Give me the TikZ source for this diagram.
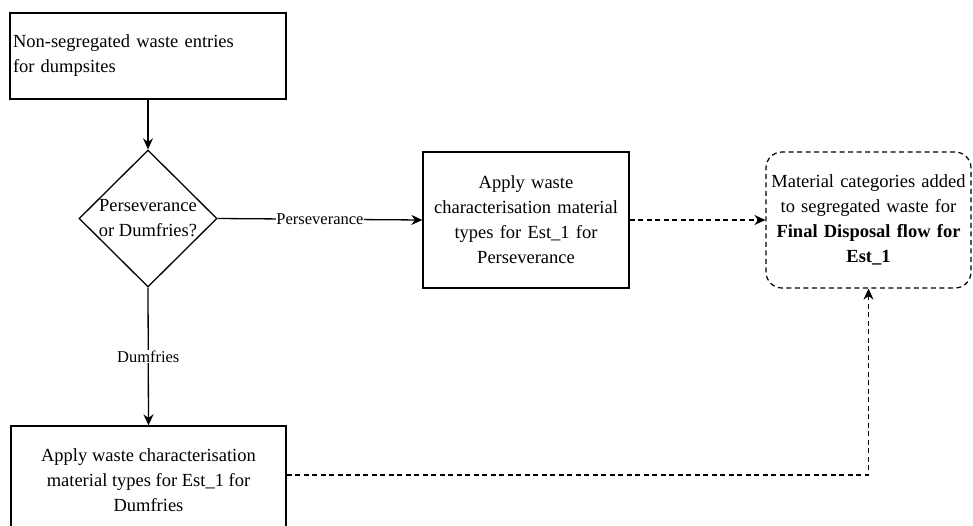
\documentclass[tikz,border=0pt]{standalone}
\usepackage{fontspec}
\setmainfont{Liberation Serif}
\usetikzlibrary{shapes.geometric,arrows.meta}
\begin{document}
\begin{tikzpicture}[x=1pt,y=-1pt,
  every node/.style={font=\fontsize{18.5}{25}\selectfont},
  box/.style={draw, line width=1.3pt, rectangle, inner sep=4pt, anchor=center},
  softbox/.style={draw, dash pattern=on 5pt off 3.5pt, line width=1.2pt, rounded corners=16pt, inner sep=2pt},
  edgelabel/.style={fill=white, inner sep=0.5pt, font=\fontsize{16.5}{18}\selectfont},
  flow/.style={line width=1.3pt, -{Stealth[length=11pt,width=10pt]}},
  dflow/.style={line width=1.2pt, dash pattern=on 5pt off 3.5pt, -{Stealth[length=11pt,width=10pt]}}]
  \useasboundingbox (0,0) rectangle (973,525);

  % entry box
  \node[box, minimum width=276pt, minimum height=86pt, text width=270pt, align=left, inner sep=3pt] (entry) at (148,56)
    {Non-segregated waste entries\\for dumpsites};

  % decision
  \node[draw, diamond, line width=1.3pt, minimum width=138pt, minimum height=137pt, inner sep=0pt] (choice) at (148,218.5) {};
  \node[align=center, inner sep=0pt] (choicetext) at (choice.center) {Perseverance\\or Dumfries?};

  % Perseverance branch
  \node[box, minimum width=206pt, minimum height=136pt, text width=202pt, align=center, inner sep=2pt] (pers) at (526,220)
    {Apply waste\\characterisation material\\types for Est\_1 for\\Perseverance};

  % final disposal target
  \node[softbox, minimum width=205pt, minimum height=136pt, text width=203pt, align=center, inner sep=1pt] (final) at (868.5,220)
    {Material categories added\\to segregated waste for\\\textbf{Final Disposal flow for}\\\textbf{Est\_1}};

  % Dumfries branch (its lower edge runs past the page; text raised to sit near the top)
  \node[box, minimum width=275pt, minimum height=110pt, inner sep=3pt] (dumf) at (148.5,481)
    {\raisebox{8pt}{\begin{tabular}{@{}c@{}}Apply waste characterisation\\material types for Est\_1 for\\Dumfries\end{tabular}}};

  % connectors
  \draw[flow] (entry.south) -- (choice.north);
  \draw[flow] (choice.east) -- node[edgelabel] (perslabel) {Perseverance} (pers.west);
  \draw[flow] (choice.south) -- node[edgelabel] (dumflabel) {Dumfries} (dumf.north);
  \draw[dflow] (pers.east) -- (final.west);
  \draw[dflow] ([yshift=6pt]dumf.east) -| (final.south);
\end{tikzpicture}
\end{document}
